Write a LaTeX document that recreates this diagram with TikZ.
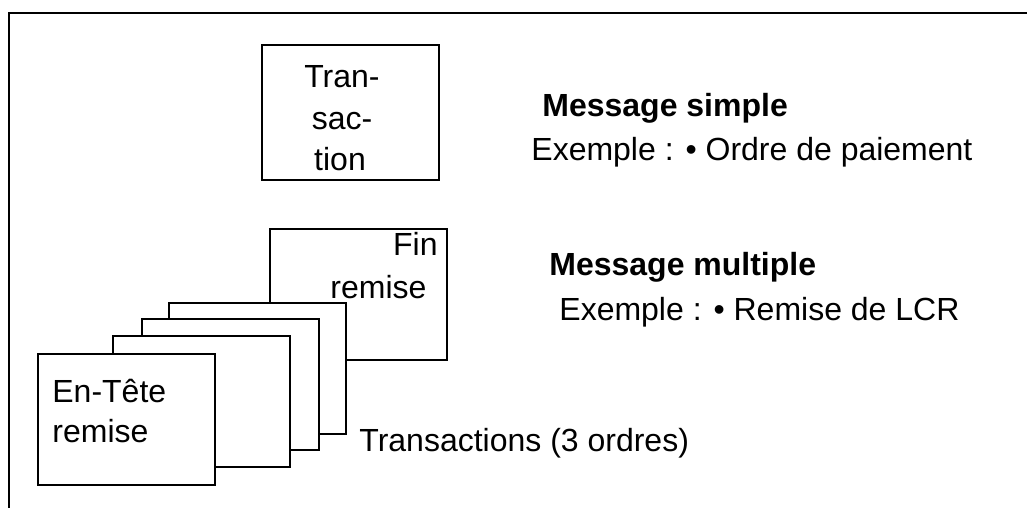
\documentclass[tikz,border=0pt]{standalone}
\usepackage{fontspec}
\setmainfont{Liberation Sans}
\usetikzlibrary{positioning}

\tikzset{
  cadre/.style={black,line width=1.3pt},
  feuille/.style={draw=black,fill=white,line width=1pt,inner sep=0pt,
    minimum width=88.5pt,minimum height=65.5pt},
  texte/.style={font=\fontsize{16}{20.5}\selectfont,inner sep=0pt},
  titre/.style={texte,font=\fontsize{16}{20.5}\selectfont\bfseries},
}

\begin{document}
\begin{tikzpicture}[x=0.5pt,y=-0.5pt]
  \useasboundingbox (0,0) rectangle (1027,508);

  \coordinate (cadreNO) at (9,13);
  \coordinate (cadreNE) at (1027,13);
  \coordinate (cadreSO) at (9,508);
  \draw[cadre] (cadreNE) -- (cadreNO) -- (cadreSO);

  % message simple
  \node[feuille,minimum height=67.5pt] (trans) at (350,112.5) {};
  \node[texte,align=center,anchor=base] (transA) at (342,88) {Tran-};
  \node[texte,align=center,anchor=base] (transB) at (342,129) {sac-};
  \node[texte,align=center,anchor=base] (transC) at (340,170) {tion};

  % message multiple : de l'arriere vers l'avant
  \node[feuille] (fin) at (358.5,294.5) {};
  \node[feuille] (ordre3) at (257,368.5) {};
  \node[feuille] (ordre2) at (230.5,384.5) {};
  \node[feuille] (ordre1) at (201.5,401) {};
  \node[feuille] (entete) at (126.5,419) {};

  \node[texte,anchor=base east] (finA) at (438,255) {Fin};
  \node[texte,anchor=base] (finB) at (378.5,298) {remise};
  \node[texte,anchor=base west] (enteteA) at (52,402) {En-Tête};
  \node[texte,anchor=base west] (enteteB) at (52,442) {remise};

  \node[texte,anchor=base west] (ordres) at (359,451) {Transactions (3 ordres)};

  \node[titre,anchor=base west] (simple) at (542,117) {Message simple};
  \node[texte,anchor=base west] (exsimple) at (531,160) {Exemple : • Ordre de paiement};
  \node[titre,anchor=base west] (multiple) at (549,275) {Message multiple};
  \node[texte,anchor=base west] (exmultiple) at (559,320) {Exemple : • Remise de LCR};
\end{tikzpicture}
\end{document}
